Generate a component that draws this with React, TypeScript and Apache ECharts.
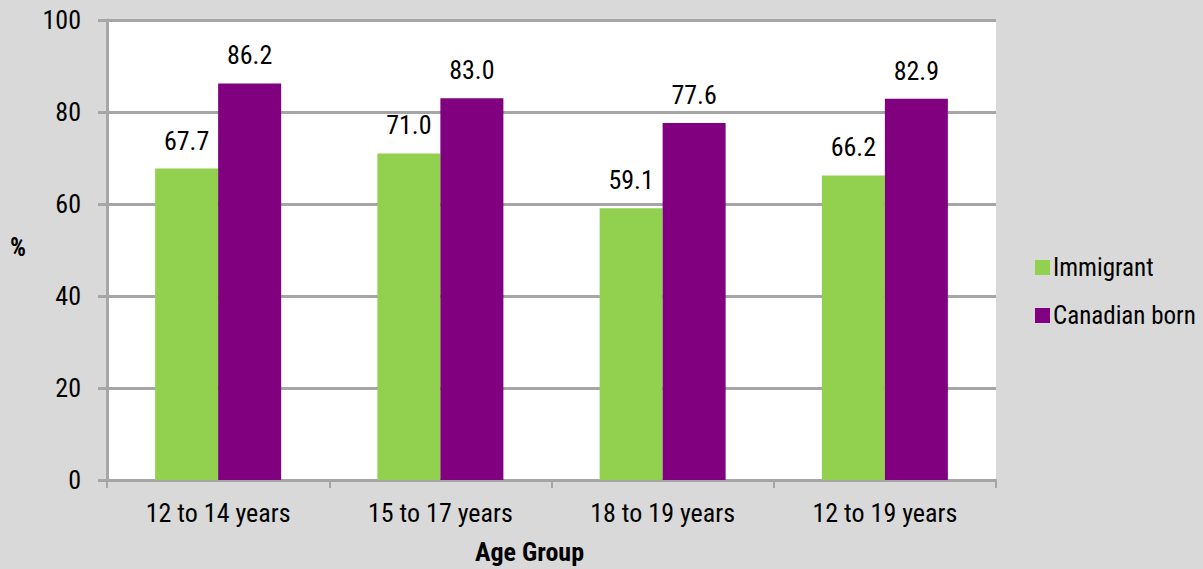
import React, { useEffect, useRef } from "react";
import * as echarts from "echarts";

const categories = ["12 to 14 years", "15 to 17 years", "18 to 19 years", "12 to 19 years"];
const immigrant = [67.7, 71.0, 59.1, 66.2];
const canadianBorn = [86.2, 83.0, 77.6, 82.9];
const seriesNames = ["Immigrant", "Canadian born"];

const FONT = "'Liberation Sans Narrow', 'Arial Narrow', 'Roboto Condensed', sans-serif";

export default function App() {
  const ref = useRef<HTMLDivElement>(null);
  useEffect(() => {
    document.body.style.margin = "0";
    const chart = echarts.init(ref.current!, null, { renderer: "svg" });
    const label = {
      show: true,
      position: "top",
      distance: 15,
      fontFamily: FONT,
      fontSize: 26,
      color: "#000",
      formatter: (p: any) => Number(p.value).toFixed(1),
    };
    chart.setOption({
      animation: false,
      backgroundColor: "#d9d9d9",
      textStyle: { fontFamily: FONT },
      grid: { left: 107, right: 207, top: 20, bottom: 89, containLabel: false, show: true, backgroundColor: "#fff", borderWidth: 0 },
      legend: {
        orient: "vertical",
        left: 1030,
        top: 250,
        itemWidth: 15,
        itemHeight: 15,
        itemGap: 23,
        icon: "rect",
        textStyle: { fontFamily: FONT, fontSize: 25, color: "#000", padding: [0, 0, 0, -2] },
        data: seriesNames,
      },
      xAxis: {
        type: "category",
        data: categories,
        axisLine: { lineStyle: { color: "#a6a6a6", width: 2 } },
        axisTick: { show: true, length: 8, lineStyle: { color: "#a6a6a6", width: 2 } },
        axisLabel: { fontFamily: FONT, fontSize: 26, color: "#000", margin: 20 },
      },
      yAxis: {
        type: "value",
        min: 0,
        max: 100,
        interval: 20,
        axisLine: { show: true, lineStyle: { color: "#a6a6a6", width: 3 } },
        axisTick: { show: true, length: 9, lineStyle: { color: "#a6a6a6", width: 3 } },
        splitLine: { lineStyle: { color: "#a6a6a6", width: 3 } },
        axisLabel: { fontFamily: FONT, fontSize: 26, color: "#000", margin: 26 },
      },
      graphic: [
        { type: "text", left: 10, top: 235, style: { text: "%", font: `bold 25px ${FONT}`, fill: "#000" } },
        { type: "text", left: 475, top: 539, style: { text: "Age Group", font: `bold 26px ${FONT}`, fill: "#000" } },
      ],
      series: [
        { name: seriesNames[0], type: "bar", data: immigrant, barWidth: 63, barGap: "0%", itemStyle: { color: "#92d050" }, label },
        { name: seriesNames[1], type: "bar", data: canadianBorn, barWidth: 63, barGap: "0%", itemStyle: { color: "#800080" }, label },
      ],
    });
    return () => chart.dispose();
  }, []);
  return <div ref={ref} style={{ width: 1203, height: 569 }} />;
}
